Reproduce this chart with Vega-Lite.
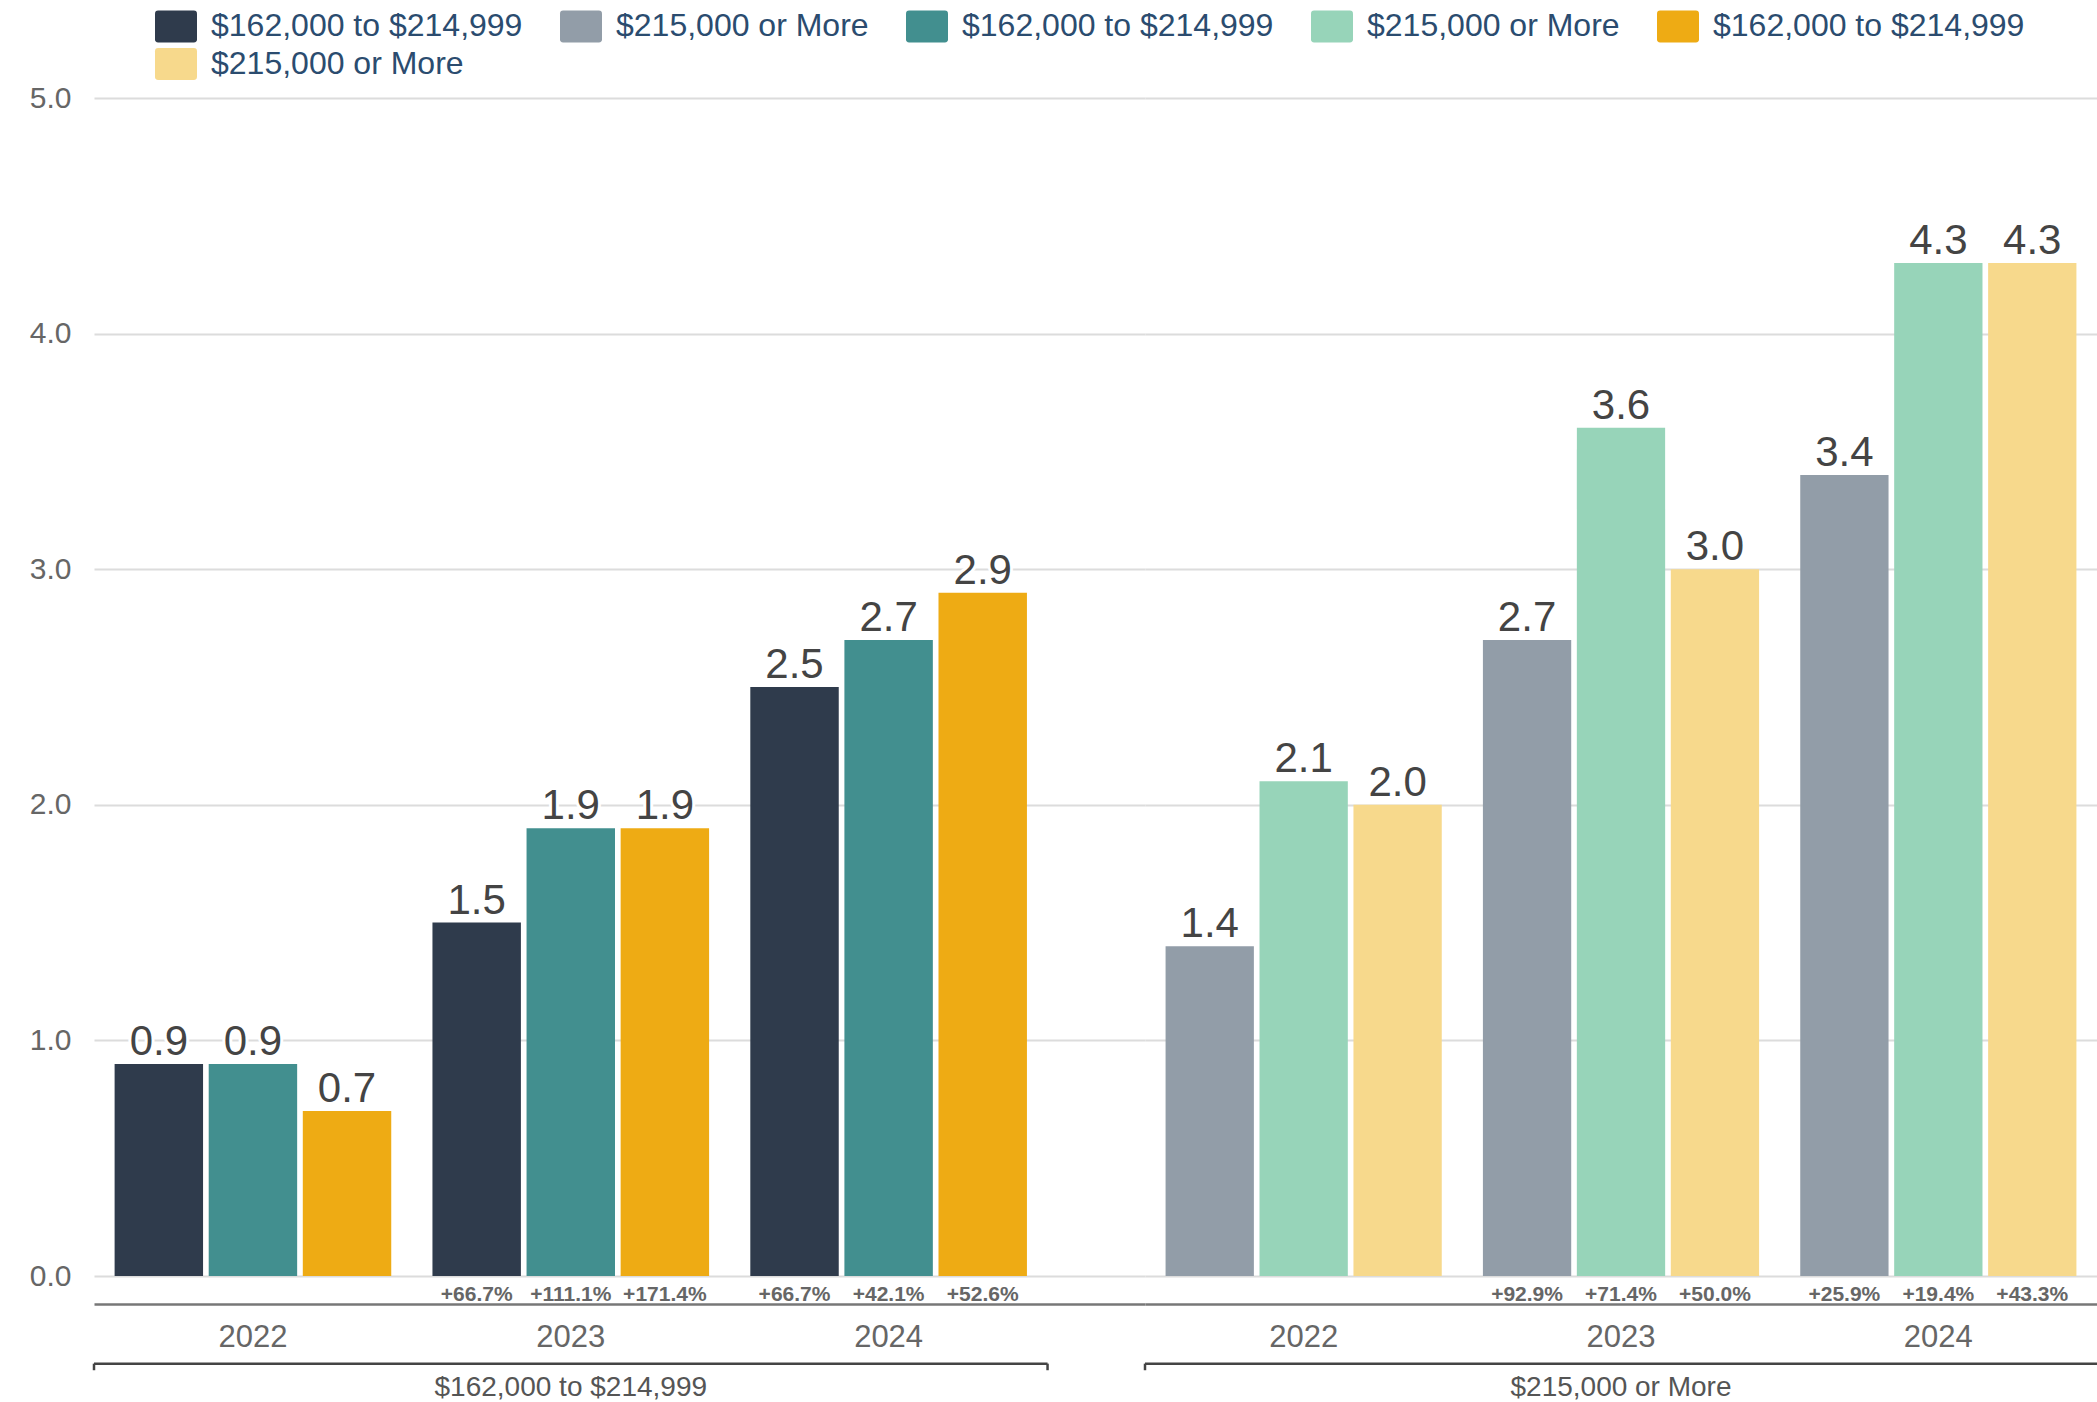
{
  "$schema": "https://vega.github.io/schema/vega-lite/v6.json",
  "autosize": {"type": "pad"},
  "padding": {"left": 29, "top": 5, "right": 0, "bottom": 0},
  "background": "white",
  "config": {
    "font": "Liberation Sans",
    "view": {"stroke": null},
    "legend": {
      "orient": "none",
      "legendX": 61,
      "legendY": -93,
      "direction": "horizontal",
      "columns": 5,
      "padding": 0,
      "title": null,
      "labelFont": "Liberation Sans",
      "labelFontSize": 32,
      "labelColor": "#2b4c6f",
      "labelLimit": 500,
      "labelOffset": 14,
      "columnPadding": 37,
      "rowPadding": -4,
      "symbolSize": 1764,
      "symbolStrokeWidth": 0,
      "symbolOpacity": 1,
      "symbolType": "M-0.85,-0.762H0.85Q1,-0.762 1,-0.612V0.612Q1,0.762 0.85,0.762H-0.85Q-1,0.762 -1,0.612V-0.612Q-1,-0.762 -0.85,-0.762Z"
    }
  },
  "datasets": {
    "g1": [
      {"year": "2022", "series": "s1", "value": 0.9},
      {"year": "2022", "series": "s3", "value": 0.9},
      {"year": "2022", "series": "s5", "value": 0.7},
      {"year": "2023", "series": "s1", "value": 1.5, "pct": "+66.7%"},
      {"year": "2023", "series": "s3", "value": 1.9, "pct": "+111.1%"},
      {"year": "2023", "series": "s5", "value": 1.9, "pct": "+171.4%"},
      {"year": "2024", "series": "s1", "value": 2.5, "pct": "+66.7%"},
      {"year": "2024", "series": "s3", "value": 2.7, "pct": "+42.1%"},
      {"year": "2024", "series": "s5", "value": 2.9, "pct": "+52.6%"}
    ],
    "g2": [
      {"year": "2022", "series": "s2", "value": 1.4},
      {"year": "2022", "series": "s4", "value": 2.1},
      {"year": "2022", "series": "s6", "value": 2.0},
      {"year": "2023", "series": "s2", "value": 2.7, "pct": "+92.9%"},
      {"year": "2023", "series": "s4", "value": 3.6, "pct": "+71.4%"},
      {"year": "2023", "series": "s6", "value": 3.0, "pct": "+50.0%"},
      {"year": "2024", "series": "s2", "value": 3.4, "pct": "+25.9%"},
      {"year": "2024", "series": "s4", "value": 4.3, "pct": "+19.4%"},
      {"year": "2024", "series": "s6", "value": 4.3, "pct": "+43.3%"}
    ],
    "b1": [{"start": "2022", "mid": "2023", "end": "2024", "label": "$162,000 to $214,999"}],
    "b2": [{"start": "2022", "mid": "2023", "end": "2024", "label": "$215,000 or More"}]
  },
  "hconcat": [
    {
      "width": 1051,
      "height": 1178,
      "layer": [
        {
          "data": {"name": "g1"},
          "mark": {"type": "bar"},
          "encoding": {
            "x": {"field": "year", "type": "nominal", "scale": {"domain": ["2022", "2023", "2024"], "paddingInner": 0, "paddingOuter": 0.1533, "align": 0},
              "axis": {"title": null, "labelAngle": 0, "domainColor": "#777777", "domainWidth": 2.5, "ticks": false, "tickSize": 0, "labelFontSize": 31, "labelColor": "#666666", "labelPadding": 18, "offset": 28, "grid": false}},
            "xOffset": {"field": "series", "type": "nominal", "scale": {"domain": ["s1", "s3", "s5"], "paddingInner": 0.06, "paddingOuter": 0.219}},
            "y": {"field": "value", "type": "quantitative", "scale": {"domain": [0, 5], "nice": false},
              "axis": {"title": null, "domain": false, "ticks": false, "labelFontSize": 30, "labelColor": "#666666", "labelPadding": 23, "values": [0, 1, 2, 3, 4, 5], "format": ".1f", "gridColor": "#dcdcdc", "gridWidth": 2}},
            "color": {"field": "series", "type": "nominal",
              "scale": {"domain": ["s1", "s2", "s3", "s4", "s5", "s6"], "range": ["#2f3b4c", "#929da8", "#428f8f", "#97d4b9", "#eeab14", "#f7d98c"]},
              "legend": {"labelExpr": "(datum.value == 's1' || datum.value == 's3' || datum.value == 's5') ? '$162,000 to $214,999' : '$215,000 or More'"}}
          }
        },
        {
          "data": {"name": "g1"},
          "mark": {"type": "text", "baseline": "alphabetic", "dy": -9, "fontSize": 42, "fill": "white", "stroke": "white", "strokeWidth": 6},
          "encoding": {
            "x": {"field": "year", "type": "nominal"},
            "xOffset": {"field": "series", "type": "nominal"},
            "y": {"field": "value", "type": "quantitative"},
            "text": {"field": "value", "type": "quantitative", "format": ".1f"}
          }
        },
        {
          "data": {"name": "g1"},
          "mark": {"type": "text", "baseline": "alphabetic", "dy": -9, "fontSize": 42, "color": "#444444"},
          "encoding": {
            "x": {"field": "year", "type": "nominal"},
            "xOffset": {"field": "series", "type": "nominal"},
            "y": {"field": "value", "type": "quantitative"},
            "text": {"field": "value", "type": "quantitative", "format": ".1f"}
          }
        },
        {
          "data": {"name": "g1"},
          "transform": [{"filter": "isValid(datum.pct)"}],
          "mark": {"type": "text", "baseline": "middle", "dy": 19, "fontSize": 21, "fontWeight": "bold", "color": "#666666"},
          "encoding": {
            "x": {"field": "year", "type": "nominal"},
            "xOffset": {"field": "series", "type": "nominal"},
            "y": {"datum": 0},
            "text": {"field": "pct", "type": "nominal"}
          }
        },
        {
          "data": {"name": "b1"},
          "mark": {"type": "rule", "color": "#444444", "strokeWidth": 2.5},
          "encoding": {
            "x": {"field": "start", "type": "nominal", "bandPosition": 0},
            "x2": {"field": "end", "bandPosition": 1},
            "y": {"datum": -0.372}
          }
        },
        {
          "data": {"name": "b1"},
          "mark": {"type": "rule", "color": "#444444", "strokeWidth": 2.5},
          "encoding": {
            "x": {"field": "start", "type": "nominal", "bandPosition": 0},
            "y": {"datum": -0.372},
            "y2": {"datum": -0.4}
          }
        },
        {
          "data": {"name": "b1"},
          "mark": {"type": "rule", "color": "#444444", "strokeWidth": 2.5},
          "encoding": {
            "x": {"field": "end", "type": "nominal", "bandPosition": 1},
            "y": {"datum": -0.372},
            "y2": {"datum": -0.4}
          }
        },
        {
          "data": {"name": "b1"},
          "mark": {"type": "text", "baseline": "middle", "fontSize": 28, "color": "#555555"},
          "encoding": {
            "x": {"field": "mid", "type": "nominal"},
            "y": {"datum": -0.4754},
            "text": {"field": "label", "type": "nominal"}
          }
        }
      ]
    },
    {
      "width": 952,
      "height": 1178,
      "layer": [
        {
          "data": {"name": "g2"},
          "mark": {"type": "bar"},
          "encoding": {
            "x": {"field": "year", "type": "nominal", "scale": {"domain": ["2022", "2023", "2024"], "paddingInner": 0, "paddingOuter": 0},
              "axis": {"title": null, "labelAngle": 0, "domainColor": "#777777", "domainWidth": 2.5, "ticks": false, "tickSize": 0, "labelFontSize": 31, "labelColor": "#666666", "labelPadding": 18, "offset": 28, "grid": false}},
            "xOffset": {"field": "series", "type": "nominal", "scale": {"domain": ["s2", "s4", "s6"], "paddingInner": 0.06, "paddingOuter": 0.219}},
            "y": {"field": "value", "type": "quantitative", "scale": {"domain": [0, 5], "nice": false},
              "axis": {"title": null, "domain": false, "ticks": false, "labels": false, "values": [0, 1, 2, 3, 4, 5], "gridColor": "#dcdcdc", "gridWidth": 2}},
            "color": {"field": "series", "type": "nominal"}
          }
        },
        {
          "data": {"name": "g2"},
          "mark": {"type": "text", "baseline": "alphabetic", "dy": -9, "fontSize": 42, "fill": "white", "stroke": "white", "strokeWidth": 6},
          "encoding": {
            "x": {"field": "year", "type": "nominal"},
            "xOffset": {"field": "series", "type": "nominal"},
            "y": {"field": "value", "type": "quantitative"},
            "text": {"field": "value", "type": "quantitative", "format": ".1f"}
          }
        },
        {
          "data": {"name": "g2"},
          "mark": {"type": "text", "baseline": "alphabetic", "dy": -9, "fontSize": 42, "color": "#444444"},
          "encoding": {
            "x": {"field": "year", "type": "nominal"},
            "xOffset": {"field": "series", "type": "nominal"},
            "y": {"field": "value", "type": "quantitative"},
            "text": {"field": "value", "type": "quantitative", "format": ".1f"}
          }
        },
        {
          "data": {"name": "g2"},
          "transform": [{"filter": "isValid(datum.pct)"}],
          "mark": {"type": "text", "baseline": "middle", "dy": 19, "fontSize": 21, "fontWeight": "bold", "color": "#666666"},
          "encoding": {
            "x": {"field": "year", "type": "nominal"},
            "xOffset": {"field": "series", "type": "nominal"},
            "y": {"datum": 0},
            "text": {"field": "pct", "type": "nominal"}
          }
        },
        {
          "data": {"name": "b2"},
          "mark": {"type": "rule", "color": "#444444", "strokeWidth": 2.5},
          "encoding": {
            "x": {"field": "start", "type": "nominal", "bandPosition": 0},
            "x2": {"field": "end", "bandPosition": 1},
            "y": {"datum": -0.372}
          }
        },
        {
          "data": {"name": "b2"},
          "mark": {"type": "rule", "color": "#444444", "strokeWidth": 2.5},
          "encoding": {
            "x": {"field": "start", "type": "nominal", "bandPosition": 0},
            "y": {"datum": -0.372},
            "y2": {"datum": -0.4}
          }
        },
        {
          "data": {"name": "b2"},
          "mark": {"type": "text", "baseline": "middle", "fontSize": 28, "color": "#555555"},
          "encoding": {
            "x": {"field": "mid", "type": "nominal"},
            "y": {"datum": -0.4754},
            "text": {"field": "label", "type": "nominal"}
          }
        }
      ]
    }
  ],
  "spacing": 0,
  "bounds": "flush",
  "resolve": {"scale": {"color": "shared", "xOffset": "independent"}, "legend": {"color": "shared"}}
}
